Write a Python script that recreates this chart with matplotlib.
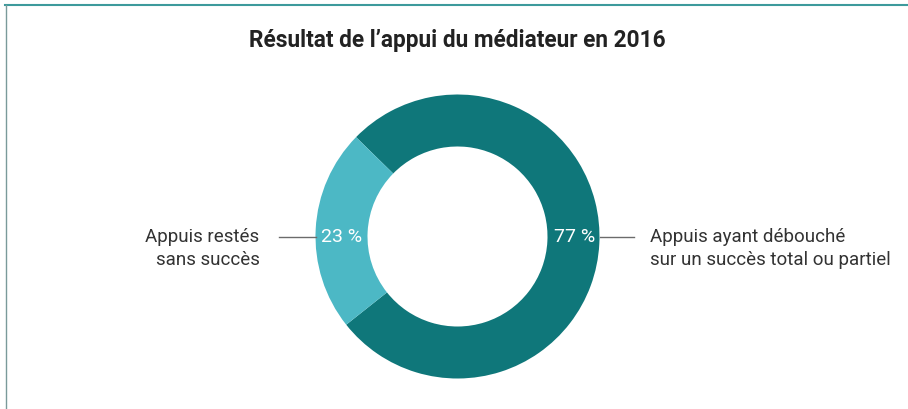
import matplotlib
matplotlib.use("Agg")
import matplotlib.pyplot as plt

# Data
title = "Résultat de l’appui du médiateur en 2016"
categories = ["Appuis ayant débouché\nsur un succès total ou partiel", "Appuis restés\nsans succès"]
shares = [77, 23]
pct_labels = ["77 %", "23 %"]
colors = ["#0F777A", "#4CB8C5"]

W, H = 908, 409
cx, cy = 457.5, H - 236.5
R = 142
ring = 52

fig = plt.figure(figsize=(W / 100, H / 100), dpi=100, facecolor="white")
ax = fig.add_axes([0, 0, 1, 1])

ax.pie(shares, colors=colors, startangle=218.4, counterclock=True,
       radius=R, center=(cx, cy),
       wedgeprops=dict(width=ring, linewidth=0))

ax.set_xlim(0, W)
ax.set_ylim(0, H)
ax.set_aspect("equal")
ax.axis("off")

plt.rcParams["font.family"] = ["Roboto", "DejaVu Sans"]

# percentage labels in the ring (right = dark, left = light)
mid = R - ring / 2
ax.text(cx + mid + 1, cy - 1, pct_labels[0], color="white", fontsize=14,
        ha="center", va="center")
ax.text(cx - mid, cy - 1, pct_labels[1], color="white", fontsize=14,
        ha="center", va="center")

# leader lines
ax.plot([cx + R, cx + R + 34], [cy, cy], color="#6b6b6b", lw=1)
ax.plot([cx - R - 37, cx - R], [cy, cy], color="#6b6b6b", lw=1)

# category labels
ax.text(cx + R + 51, cy + 9, categories[0], color="#333333", fontsize=13.5,
        ha="left", va="top", linespacing=1.38)
ax.text(cx - R - 56, cy + 9, categories[1], color="#333333", fontsize=13.5,
        ha="right", va="top", linespacing=1.38, multialignment="right")

# title
ax.text(cx, H - 40, title, color="#222222", fontsize=16.3, fontweight="bold",
        ha="center", va="center")

# frame
ax.plot([5, W], [H - 4.5, H - 4.5], color="#3d9a9c", lw=1.5)
ax.plot([5.5, 5.5], [0, H - 4.5], color="#7a9a9a", lw=1)

fig.savefig("out.png", dpi=100, facecolor="white")
